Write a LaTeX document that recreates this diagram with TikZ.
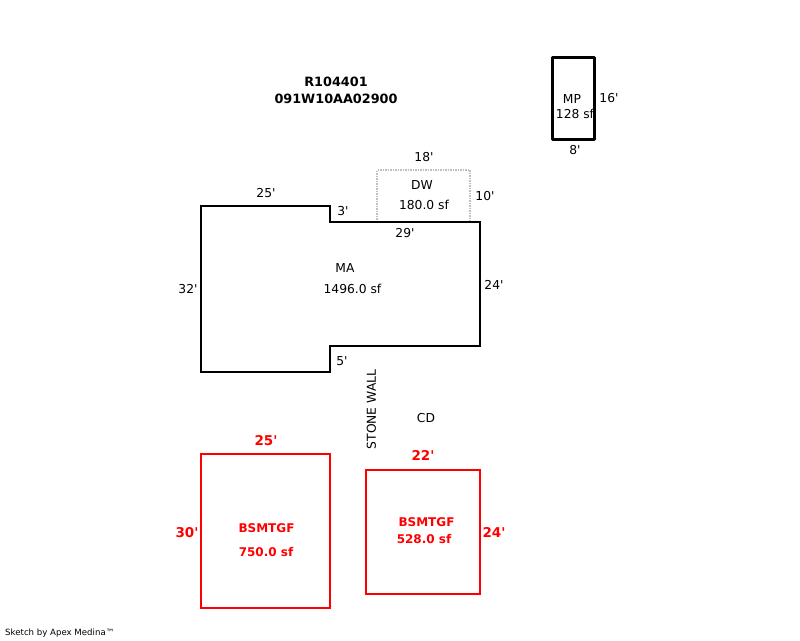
\documentclass[tikz,border=0pt]{standalone}
\usepackage{fontspec}
\setmainfont{DejaVu Sans}[Ligatures=TeXOff]
\tikzset{
  wall/.style = {draw = black, line width = 2pt, line join = miter},
  outbuilding/.style = {draw = black, line width = 3pt, line join = round},
  deck/.style = {draw = gray!50, line width = 1.5pt, densely dotted},
  basement/.style = {draw = red, line width = 2.2pt},
  lbl/.style = {inner sep = 0pt, font = \fontsize{12.3}{14}\selectfont},
  title/.style = {inner sep = 0pt, font = \fontsize{12.8}{15}\selectfont\bfseries},
  redlbl/.style = {inner sep = 0pt, text = red, font = \fontsize{12}{14}\selectfont\bfseries},
  bigred/.style = {inner sep = 0pt, text = red, font = \fontsize{13.5}{15}\selectfont\bfseries}
}
\begin{document}
\begin{tikzpicture}[x = 1pt, y = -1pt]
\useasboundingbox (0,0) rectangle (800,640);
\draw[deck] (377,222) -- (377,170) -- (470,170) -- (470,222);
\draw[wall] (201,206) -- (330,206) -- (330,222) -- (480,222) -- (480,346) -- (330,346) -- (330,372) -- (201,372) -- cycle;
\draw[outbuilding] (552,57) rectangle (594,139);
\draw[basement] (201,454) rectangle (330,608);
\draw[basement] (366,470) rectangle (480,594);
\node[title] (parcel) at (336,82) {R104401};
\node[title] (account) at (336,99) {091W10AA02900};
\node[lbl] (mpname) at (572,99) {MP};
\node[lbl] (mparea) at (575,114) {128 sf};
\node[lbl] (mpside) at (609,98.5) {16'};
\node[lbl] (mpbase) at (575,150) {8'};
\node[lbl] (dwtop) at (424,157) {18'};
\node[lbl] (dwname) at (422,185) {DW};
\node[lbl] (dwarea) at (424,204.5) {180.0 sf};
\node[lbl] (dwside) at (485,196.5) {10'};
\node[lbl] (matop) at (266,193) {25'};
\node[lbl] (manotch) at (343,211) {3'};
\node[lbl] (mainner) at (405,233) {29'};
\node[lbl] (maname) at (345,268) {MA};
\node[lbl] (maarea) at (352.5,288.5) {1496.0 sf};
\node[lbl] (maright) at (494,284.5) {24'};
\node[lbl] (maleft) at (188,289.5) {32'};
\node[lbl] (malow) at (342,361.5) {5'};
\node[lbl, rotate = 90] (stone) at (371.5,409.5) {STONE WALL};
\node[lbl] (cd) at (426,418) {CD};
\node[bigred] (bleft) at (266,440.5) {25'};
\node[bigred] (bmid) at (423,455.5) {22'};
\node[bigred] (bside) at (187,532.5) {30'};
\node[bigred] (bright) at (494,532.5) {24'};
\node[redlbl] (bname) at (266.5,528) {BSMTGF};
\node[redlbl] (barea) at (266,552.5) {750.0 sf};
\node[redlbl] (cname) at (426.5,522.5) {BSMTGF};
\node[redlbl] (carea) at (424,539) {528.0 sf};
\node[inner sep = 0pt, anchor = west, font = \fontsize{8.6}{11}\selectfont] (credit) at (5,633) {Sketch by Apex Medina™};
\end{tikzpicture}
\end{document}
